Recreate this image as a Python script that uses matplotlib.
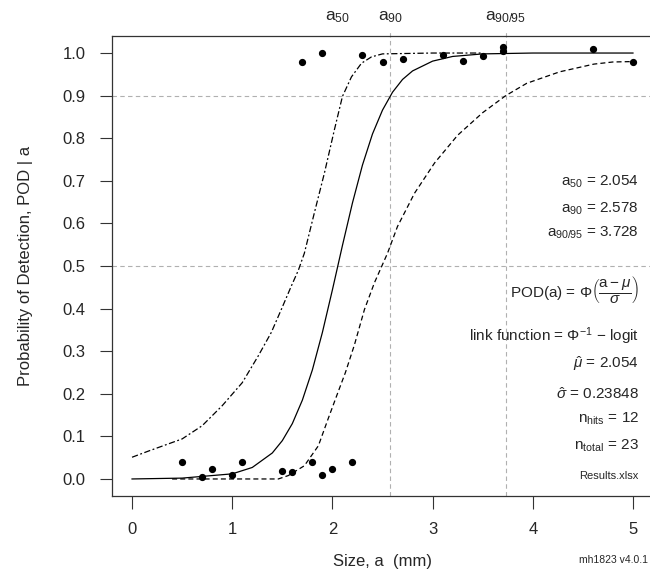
import matplotlib
matplotlib.use("Agg")
import matplotlib.pyplot as plt

plt.rcParams['font.family'] = ['Liberation Sans', 'DejaVu Sans']
plt.rcParams['mathtext.fontset'] = 'custom'
plt.rcParams['mathtext.rm'] = 'Liberation Sans'
plt.rcParams['mathtext.it'] = 'Liberation Sans:italic'
plt.rcParams['mathtext.bf'] = 'Liberation Sans:bold'

# fitted POD curve and confidence bounds
pod_x = [0, 0.5, 1.0, 1.2, 1.4, 1.5, 1.6, 1.7, 1.8, 1.9, 2.0, 2.1, 2.2, 2.3, 2.4, 2.5, 2.6, 2.7, 2.8, 3.0, 3.2, 3.5, 4.0, 5.0]
pod_y = [0.0, 0.002, 0.012, 0.027, 0.061, 0.090, 0.130, 0.185, 0.256, 0.344, 0.444, 0.548, 0.648, 0.737, 0.810, 0.866, 0.908, 0.938, 0.958, 0.981, 0.992, 0.998, 1.0, 1.0]

upper_x = [0, 0.17, 0.5, 0.7, 0.9, 1.1, 1.26, 1.39, 1.49, 1.59, 1.66, 1.72, 1.82, 1.92, 2.02, 2.10, 2.19, 2.29, 2.39, 2.5, 3.0, 3.5]
upper_y = [0.051, 0.066, 0.094, 0.125, 0.172, 0.226, 0.289, 0.344, 0.398, 0.453, 0.49, 0.53, 0.625, 0.718, 0.82, 0.898, 0.944, 0.976, 0.991, 0.998, 1.0, 1.0]

lower_x = [0.4, 1.0, 1.46, 1.56, 1.72, 1.86, 1.96, 2.05, 2.13, 2.22, 2.32, 2.42, 2.55, 2.65, 2.82, 3.02, 3.25, 3.5, 3.73, 3.94, 4.27, 4.61, 4.8, 5.0]
lower_y = [0.0, 0.0, 0.0, 0.008, 0.031, 0.078, 0.143, 0.20, 0.25, 0.315, 0.398, 0.461, 0.53, 0.593, 0.671, 0.742, 0.807, 0.86, 0.90, 0.929, 0.956, 0.974, 0.979, 0.98]

# hit / miss observations
hit_x = [1.70, 1.90, 2.30, 2.50, 2.70, 3.10, 3.30, 3.50, 3.70, 3.70, 4.60, 5.00]
hit_y = [0.979, 1.0, 0.995, 0.979, 0.986, 0.995, 0.981, 0.993, 1.005, 1.015, 1.01, 0.98]
miss_x = [0.50, 0.70, 0.80, 1.00, 1.10, 1.50, 1.60, 1.80, 1.90, 2.00, 2.20]
miss_y = [0.041, 0.005, 0.023, 0.009, 0.039, 0.019, 0.016, 0.039, 0.010, 0.023, 0.041]

a50, a90, a9095 = 2.054, 2.578, 3.728
mu_hat, sigma_hat = 2.054, 0.23848
n_hits, n_total = 12, 23

xticks = [0, 1, 2, 3, 4, 5]
yticks = [0.0, 0.1, 0.2, 0.3, 0.4, 0.5, 0.6, 0.7, 0.8, 0.9, 1.0]

txt = '#262626'
grey = '#b0b0b0'

fig = plt.figure(figsize=(6.5, 5.74), dpi=100)
ax = fig.add_axes([112/650, 78/574, 541/650, 460/574])
ax.set_xlim(-0.2, 5.2)
ax.set_ylim(-0.04, 1.04)

# reference lines
for yv in [0.5, 0.9]:
    ax.axhline(yv, color=grey, lw=0.8, dashes=(4, 3), zorder=1)
for xv in [a90, a9095]:
    ax.plot([xv, xv], [-0.04, 1.055], color=grey, lw=0.8, dashes=(4, 3), zorder=1, clip_on=False)

ax.plot(pod_x, pod_y, color='black', lw=0.9, zorder=3)
ax.plot(upper_x, upper_y, color='black', lw=0.9, dashes=(5, 2, 1.5, 2), zorder=3)
ax.plot(lower_x, lower_y, color='black', lw=0.9, dashes=(4, 2.5), zorder=3)

ax.plot(hit_x, hit_y, 'o', color='black', ms=4.2, zorder=4)
ax.plot(miss_x, miss_y, 'o', color='black', ms=4.2, zorder=4)

ax.set_xticks(xticks)
ax.set_xticklabels([str(v) for v in xticks])
ax.set_yticks(yticks)
ax.set_yticklabels(['%.1f' % v for v in yticks])
ax.tick_params(direction='out', length=9, width=0.8, color='#333333',
               labelsize=12, labelcolor=txt, pad=10)
for s in ax.spines.values():
    s.set_linewidth(0.9)
    s.set_color('#333333')

ax.set_xlabel('Size, a  (mm)', fontsize=12, color=txt, labelpad=12)
ax.set_ylabel('Probability of Detection, POD | a', fontsize=12, color=txt, labelpad=21)

# labels above the box
for xv, lab in [(a50, r'a$_{50}$'), (a90, r'a$_{90}$'), (a9095, r'a$_{90/95}$')]:
    ax.annotate(lab, xy=(xv, 1.041), xycoords=('data', 'axes fraction'),
                ha='center', va='center', fontsize=12.5, color=txt)

# summary text on the right
tx = 5.06
ax.text(tx, 0.698, r'a$_{50}$ = %.3f' % a50, ha='right', va='center', fontsize=11, color=txt)
ax.text(tx, 0.635, r'a$_{90}$ = %.3f' % a90, ha='right', va='center', fontsize=11, color=txt)
ax.text(tx, 0.578, r'a$_{90/95}$ = %.3f' % a9095, ha='right', va='center', fontsize=11, color=txt)
ax.text(tx, 0.445, r'POD(a) = $\Phi\left(\dfrac{\mathrm{a}-\mu}{\sigma}\right)$', ha='right', va='center', fontsize=11, color=txt)
ax.text(tx, 0.335, r'link function = $\Phi^{-1}$ $-$ logit', ha='right', va='center', fontsize=11, color=txt)
ax.text(tx, 0.272, r'$\hat{\mu}$ = %.3f' % mu_hat, ha='right', va='center', fontsize=11, color=txt)
ax.text(tx, 0.199, r'$\hat{\sigma}$ = %.5f' % sigma_hat, ha='right', va='center', fontsize=11, color=txt)
ax.text(tx, 0.141, r'n$_{\mathrm{hits}}$ = %d' % n_hits, ha='right', va='center', fontsize=11, color=txt)
ax.text(tx, 0.077, r'n$_{\mathrm{total}}$ = %d' % n_total, ha='right', va='center', fontsize=11, color=txt)
ax.text(tx, 0.008, 'Results.xlsx', ha='right', va='center', fontsize=8, color=txt)

fig.text(648/650, 1 - 560/574, 'mh1823 v4.0.1', ha='right', va='center', fontsize=7.5, color=txt)

fig.savefig('out.png', dpi=100)
